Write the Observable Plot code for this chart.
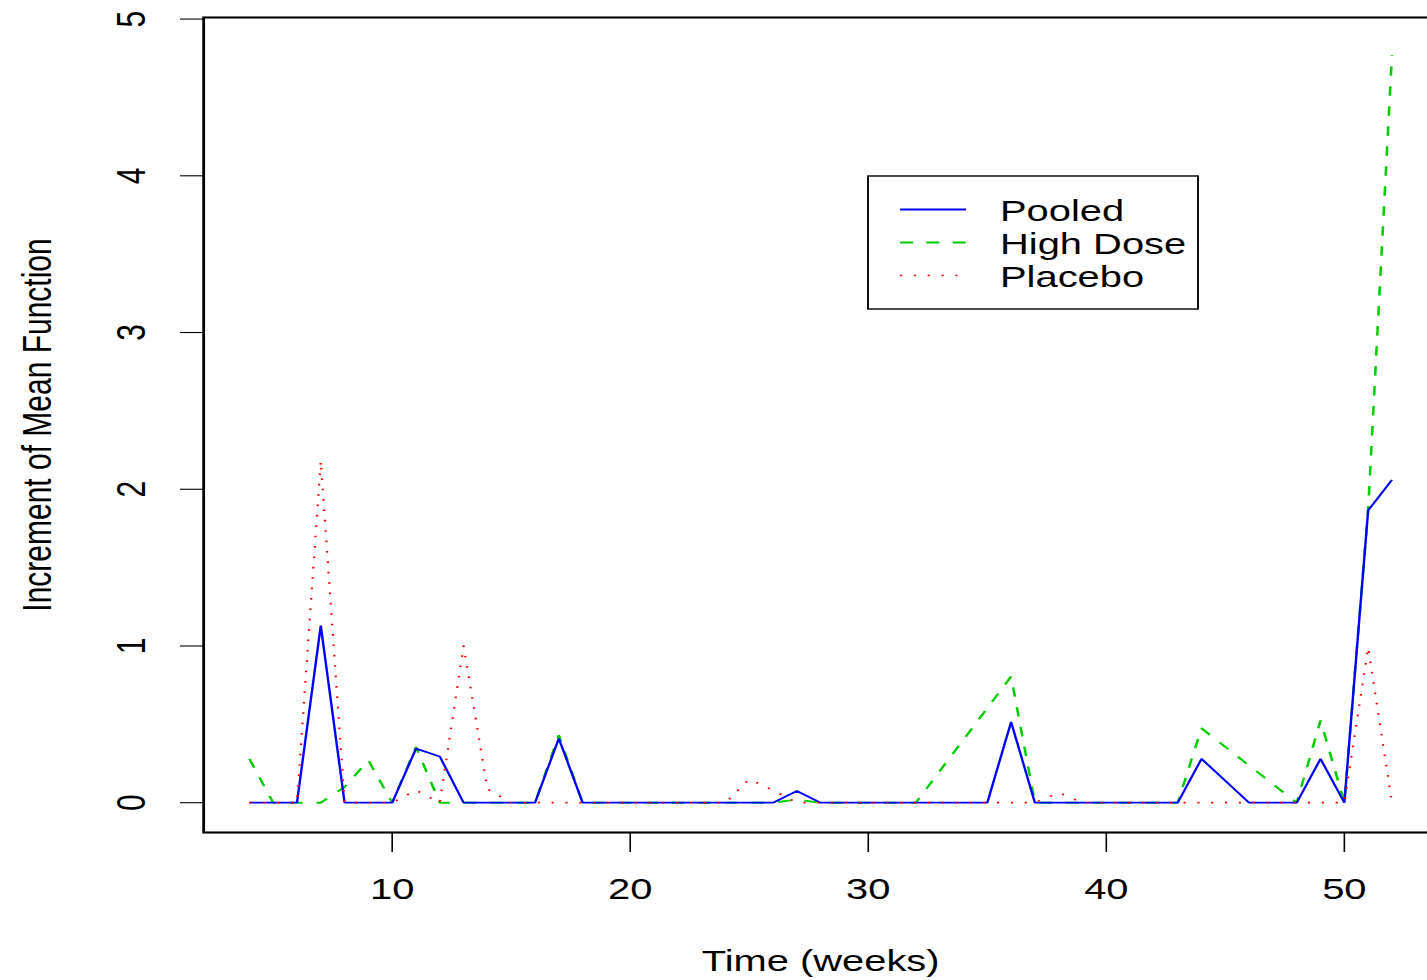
<!DOCTYPE html>
<html><head><meta charset="utf-8">
<script src="https://cdn.jsdelivr.net/npm/d3@7"></script>
<script src="https://cdn.jsdelivr.net/npm/@observablehq/plot@0.6"></script>
<style>html,body{margin:0;padding:0;background:#fff;overflow:hidden}</style>
</head><body><div id="chart"></div>
<script>
// ---- data ----
const seriesNames = ["Pooled", "High Dose", "Placebo"];
const xTicks = [10, 20, 30, 40, 50];
const yTicks = [0, 1, 2, 3, 4, 5];
const xTitle = "Time (weeks)";
const yTitle = "Increment of Mean Function";

const pooledWeeks  = [4, 6, 7, 8, 10, 11, 12, 13, 16, 17, 18, 26, 27, 28, 35, 36, 37, 43, 44, 46, 48, 49, 50, 51, 52];
const pooledValues = [0, 0, 1.13, 0, 0, 0.345, 0.295, 0, 0, 0.41, 0, 0, 0.075, 0, 0, 0.515, 0, 0, 0.28, 0, 0, 0.28, 0, 1.865, 2.06];

const highWeeks  = [4, 5, 7, 8, 9, 10, 11, 12, 16, 17, 18, 26, 27, 28, 32, 36, 37, 43, 44, 48, 49, 50, 51, 52];
const highValues = [0.28, 0, 0, 0.1, 0.27, 0, 0.355, 0, 0, 0.43, 0, 0, 0.02, 0, 0, 0.805, 0, 0, 0.475, 0, 0.525, 0, 1.87, 4.77];

const placeboWeeks  = [4, 6, 7, 8, 10, 11, 12, 13, 14, 15, 24, 25, 26, 27, 37, 38, 39, 50, 51, 52];
const placeboValues = [0, 0, 2.18, 0, 0, 0.08, 0, 1.0, 0.087, 0, 0, 0.15, 0.08, 0, 0, 0.065, 0, 0, 0.99, 0];

// ---- layout (the reference is stretched horizontally) ----
const K = 1.33;
const VW = 1427 / K;          // visible width in unstretched units
const PW = 1090;              // plot width (frame runs past the right edge)
const mLeft = 203 / K;
const frameRight = 1437 / K;

const colors = {pooled: "#0000FF", high: "#00CD00", placebo: "#FF0000"};
const FONT = "'Liberation Sans', Arial, Helvetica, sans-serif";

const svg = Plot.plot({
  width: PW, height: 980,
  marginLeft: mLeft, marginRight: PW - frameRight, marginTop: 17, marginBottom: 148,
  x: {domain: [2.08, 53.92], axis: null},
  y: {domain: [-0.19, 5.01], axis: null},
  style: {fontFamily: FONT, fontSize: "30px", background: "white", color: "black"},
  marks: [
    Plot.axisX({ticks: xTicks, tickSize: 20, tickPadding: 25, fontSize: 30, strokeWidth: 1.2, tickFormat: d => String(d), label: null}),
    Plot.axisY({ticks: yTicks, tickSize: 17.3, strokeWidth: 1.1, tickFormat: () => "", label: null}),
    Plot.text(yTicks, {y: d => d, text: d => String(d), frameAnchor: "left", dx: 98.8 - mLeft, rotate: -90, fontSize: 30, textAnchor: "middle", lineAnchor: "middle"}),
    Plot.text([xTitle], {text: d => d, frameAnchor: "bottom", dy: 129, fontSize: 30, textAnchor: "middle", lineAnchor: "middle"}),
    Plot.text([yTitle], {text: d => d, frameAnchor: "left", dx: 28.6 - mLeft, rotate: -90, fontSize: 30, textAnchor: "middle", lineAnchor: "middle", ariaLabel: "y-title"}),
    Plot.line(highValues, {x: highWeeks, y: highValues, stroke: colors.high, strokeWidth: 1.9, strokeDasharray: "9.5,10.5", strokeLinecap: "butt", strokeLinejoin: "miter"}),
    Plot.line(pooledValues, {x: pooledWeeks, y: pooledValues, stroke: colors.pooled, strokeWidth: 1.8, strokeLinecap: "butt", strokeLinejoin: "miter"}),
    Plot.line(placeboValues, {x: placeboWeeks, y: placeboValues, stroke: colors.placebo, strokeWidth: 1.7, strokeDasharray: "1.6,8.8", strokeLinecap: "butt"}),
    Plot.frame({stroke: "black", strokeWidth: 2.1})
  ]
});

// crop & stretch
svg.setAttribute("viewBox", `0 0 ${VW} 980`);
svg.setAttribute("width", 1427);
svg.setAttribute("height", 980);
svg.setAttribute("preserveAspectRatio", "none");
svg.style.width = "1427px";
svg.style.height = "980px";
svg.style.maxWidth = "none";
svg.style.overflow = "hidden";
document.getElementById("chart").appendChild(svg);

// the y title is condensed in the reference
const yt = svg.querySelector('g[aria-label="y-title"]');
if (yt) {
  const wrap = document.createElementNS("http://www.w3.org/2000/svg", "g");
  const cx = 28.6;
  wrap.setAttribute("transform", `translate(${cx},0) scale(0.72,1) translate(${-cx},0)`);
  yt.parentNode.insertBefore(wrap, yt);
  wrap.appendChild(yt);
}

// legend
const lg = d3.select(svg).append("g");
lg.append("rect")
  .attr("x", 868 / K).attr("y", 176)
  .attr("width", (1198 - 868) / K).attr("height", 133)
  .attr("fill", "white").attr("stroke", "black").attr("stroke-width", 1.4);
const legendStyles = [
  {stroke: colors.pooled, dash: null, w: 1.8},
  {stroke: colors.high, dash: "9.8,10", w: 1.9},
  {stroke: colors.placebo, dash: "1.6,8.8", w: 1.7}
];
seriesNames.forEach((name, i) => {
  const y = 209.5 + 33 * i;
  const s = legendStyles[i];
  const ln = lg.append("line")
    .attr("x1", 900 / K).attr("x2", 966 / K).attr("y1", y).attr("y2", y)
    .attr("stroke", s.stroke).attr("stroke-width", s.w);
  if (s.dash) ln.attr("stroke-dasharray", s.dash);
  lg.append("text")
    .attr("x", 1000 / K).attr("y", 221.5 + 33 * i)
    .attr("text-anchor", "start")
    .attr("font-family", FONT)
    .attr("font-size", 30).attr("fill", "black")
    .text(name);
});
</script>
</body></html>
